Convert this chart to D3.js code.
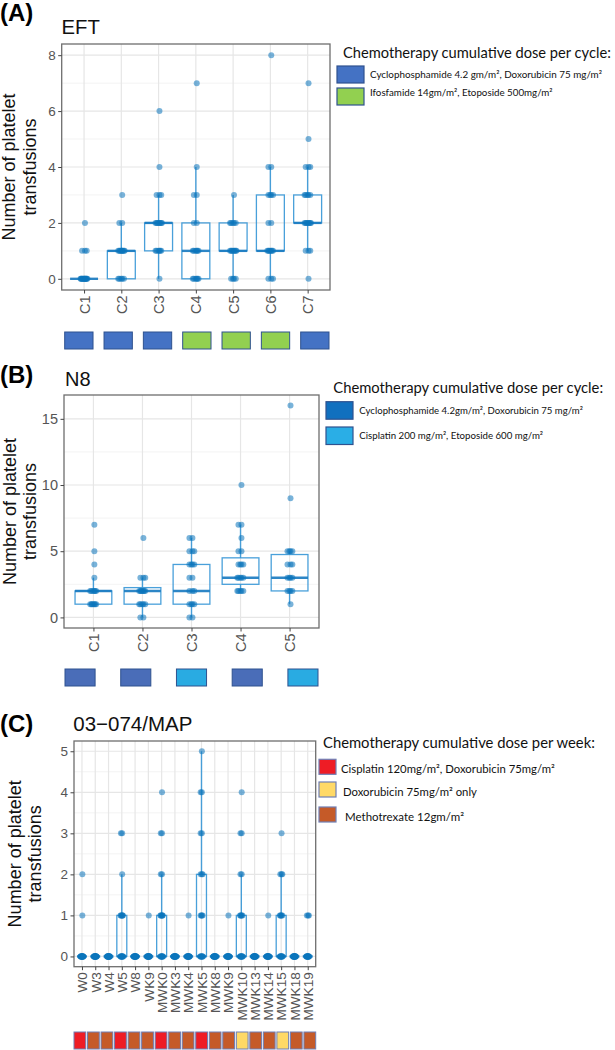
<!DOCTYPE html>
<html><head><meta charset="utf-8">
<script src="https://cdn.jsdelivr.net/npm/d3@7"></script>
<style>body{margin:0;background:#fff}</style>
</head><body><svg id="c" width="615" height="1050"></svg>
<script>
// ================= DATA =================
// Panel A: EFT
const eftCategories = ["C1","C2","C3","C4","C5","C6","C7"];
const eftPoints = [
  [0,0,0,0,0,0,0,0,0,0,0,0,0,0,1,1,1,2],
  [0,0,0,0,0,1,1,1,1,1,1,1,1,1,2,2,3],
  [0,1,1,1,1,1,1,2,2,2,2,2,2,2,2,3,3,3,4,6],
  [0,0,0,0,0,0,1,1,1,1,1,1,2,2,3,3,4,7],
  [0,0,0,0,1,1,1,1,1,1,1,1,2,2,2,2,2,3],
  [0,0,0,1,1,1,1,1,1,1,2,2,3,3,3,3,4,4,8],
  [0,1,1,1,2,2,2,2,2,2,2,2,3,3,3,3,3,4,4,4,5,7]
];
const eftQ1 = [0,0,1,0,1,1,2];
const eftMedian = [0,1,2,1,1,1,2];
const eftQ3 = [0,1,2,2,2,3,3];
const eftWhiskerLow = [0,0,0,0,0,0,1];
const eftWhiskerHigh = [0,2,3,4,3,4,4];
const eftRegimen = [0,0,0,1,1,1,0];
const eftYTicks = [0,2,4,6,8];
const eftTitle = "EFT";
const eftLegendTitle = "Chemotherapy cumulative dose per cycle:";
const eftLegendLabels = ["Cyclophosphamide 4.2 gm/m², Doxorubicin 75 mg/m²","Ifosfamide 14gm/m², Etoposide 500mg/m²"];

// Panel B: N8
const n8Categories = ["C1","C2","C3","C4","C5"];
const n8Points = [
  [1,1,1,1,1,1,1,2,2,2,2,2,2,3,4,5,7],
  [0,0,1,1,1,1,1,2,2,2,2,2,2,2,3,3,3,6],
  [0,0,1,1,1,1,2,2,2,3,3,4,4,4,4,5,5,5,6,6],
  [2,2,2,2,2,3,3,3,3,3,4,4,4,4,5,5,6,7,7,10],
  [1,2,2,2,2,3,3,3,3,4,4,4,5,5,5,5,9,16]
];
const n8Q1 = [1,1,1,2.5,2];
const n8Median = [2,2,2,3,3];
const n8Q3 = [2,2.25,4,4.5,4.75];
const n8WhiskerLow = [1,0,0,2,1];
const n8WhiskerHigh = [3,3,6,7,5];
const n8Regimen = [0,0,1,0,1];
const n8YTicks = [0,5,10,15];
const n8Title = "N8";
const n8LegendTitle = "Chemotherapy cumulative dose per cycle:";
const n8LegendLabels = ["Cyclophosphamide 4.2gm/m², Doxorubicin 75 mg/m²","Cisplatin 200 mg/m², Etoposide 600 mg/m²"];

// Panel C: 03-074/MAP
const mapCategories = ["W0","W3","W4","W5","W8","WK9","MWK0","MWK3","MWK4","MWK5","MWK8","MWK9","MWK10","MWK13","MWK14","MWK15","MWK18","MWK19"];
const Z = n => Array(n).fill(0);
const mapPoints = [
  Z(16).concat([1,2]),
  Z(18),
  Z(18),
  Z(10).concat([1,1,1,1,1,1,2,3,3]),
  Z(18),
  Z(17).concat([1]),
  Z(9).concat([1,1,1,1,1,1,2,2,3,3,4]),
  Z(18),
  Z(17).concat([1]),
  Z(8).concat([1,1,1,1,2,2,2,3,3,4,4,5]),
  Z(18),
  Z(17).concat([1]),
  Z(10).concat([1,1,1,1,1,2,2,3,3,4]),
  Z(18),
  Z(17).concat([1]),
  Z(10).concat([1,1,1,1,1,2,2,2,3]),
  Z(18),
  Z(14).concat([1,1,1])
];
const mapQ1 = Z(18);
const mapMedian = Z(18);
const mapQ3 = [0,0,0,1,0,0,1,0,0,2,0,0,1,0,0,1,0,0];
const mapWhiskerLow = Z(18);
const mapWhiskerHigh = [0,0,0,2,0,0,2,0,0,5,0,0,2,0,0,2,0,0];
const mapRegimen = [0,2,2,0,2,2,0,2,2,0,2,2,1,2,2,1,2,2];
const mapYTicks = [0,1,2,3,4,5];
const mapTitle = "03\u2212074/MAP";
const mapLegendTitle = "Chemotherapy cumulative dose per week:";
const mapLegendLabels = ["Cisplatin 120mg/m², Doxorubicin 75mg/m²","Doxorubicin 75mg/m² only","Methotrexate 12gm/m²"];

const yAxisTitle = ["Number of platelet","transfusions"];

// ================= STYLE / LAYOUT =================
const svg = d3.select("#c");
const AX_FONT = "'Liberation Sans', Arial, sans-serif";
const LEG_FONT = "Lato, 'Open Sans', sans-serif";
const PT_COLOR = "#0b74bc";
const BOX_COLOR = "#3596d6";

// size a text so that its natural width equals the target width
function fitText(sel, base, target) {
  sel.attr("font-size", base);
  const w = sel.node().getComputedTextLength();
  if (w > 0) sel.attr("font-size", (base * target / w).toFixed(2));
}

function drawPanel(cfg) {
  const g = svg.append("g");
  const x = d3.scalePoint().domain(cfg.categories).range([cfg.left, cfg.right]).padding(0.6);
  const step = x.step();
  const yMax = cfg.yMax, yMin = 0;
  const exp = (yMax - yMin) * 0.05;
  const y = d3.scaleLinear().domain([yMin - exp, yMax + exp]).range([cfg.bottom, cfg.top]);

  // panel label and title
  g.append("text").attr("x", 0).attr("y", cfg.labelY).text(cfg.panelLabel)
    .attr("font-family", AX_FONT).attr("font-weight", "bold").attr("font-size", 24).attr("fill", "#000");
  g.append("text").attr("x", cfg.titleX).attr("y", cfg.titleY).text(cfg.title)
    .attr("font-family", AX_FONT).attr("font-size", cfg.titleSize).attr("fill", "#111");

  // grid
  const minor = [];
  const t = cfg.yTicks;
  for (let i = 0; i < t.length - 1; i++) minor.push((t[i] + t[i+1]) / 2);
  g.selectAll(".ymin").data(minor).join("line")
    .attr("x1", cfg.left).attr("x2", cfg.right).attr("y1", d => y(d)).attr("y2", d => y(d))
    .attr("stroke", "#f2f2f2").attr("stroke-width", 0.9);
  g.selectAll(".ymaj").data(t).join("line")
    .attr("x1", cfg.left).attr("x2", cfg.right).attr("y1", d => y(d)).attr("y2", d => y(d))
    .attr("stroke", "#e6e6e6").attr("stroke-width", 1.2);
  g.selectAll(".xmaj").data(cfg.categories).join("line")
    .attr("x1", d => x(d)).attr("x2", d => x(d)).attr("y1", cfg.top).attr("y2", cfg.bottom)
    .attr("stroke", "#e6e6e6").attr("stroke-width", 1.2);

  // boxplots
  const bw = step * 0.75;
  const stats = cfg.categories.map((c, i) => ({c, q1: cfg.q1[i], med: cfg.median[i], q3: cfg.q3[i], lo: cfg.wlo[i], hi: cfg.whi[i]}));
  const bg = g.append("g").attr("stroke", BOX_COLOR).attr("fill", "none").attr("stroke-opacity", 0.9);
  bg.selectAll(".wh").data(stats.filter(s => s.hi > s.q3)).join("line")
    .attr("x1", d => x(d.c)).attr("x2", d => x(d.c)).attr("y1", d => y(d.q3)).attr("y2", d => y(d.hi)).attr("stroke-width", 1.4);
  bg.selectAll(".wl").data(stats.filter(s => s.lo < s.q1)).join("line")
    .attr("x1", d => x(d.c)).attr("x2", d => x(d.c)).attr("y1", d => y(d.q1)).attr("y2", d => y(d.lo)).attr("stroke-width", 1.4);
  bg.selectAll(".bx").data(stats).join("rect")
    .attr("x", d => x(d.c) - bw/2).attr("width", bw)
    .attr("y", d => y(d.q3)).attr("height", d => y(d.q1) - y(d.q3))
    .attr("fill", "none").attr("stroke-width", 1.3);
  bg.selectAll(".md").data(stats).join("line")
    .attr("x1", d => x(d.c) - bw/2).attr("x2", d => x(d.c) + bw/2)
    .attr("y1", d => y(d.med)).attr("y2", d => y(d.med)).attr("stroke-width", 2.4).attr("stroke", "#1679c0");

  // jittered points (deterministic spread)
  const pts = [];
  cfg.points.forEach((arr, i) => {
    const seen = {};
    arr.forEach(v => {
      const k = seen[v] = (seen[v] || 0) + 1;
      const off = (((k * 0.618034) % 1) - 0.5) * 2 * cfg.jitter * step;
      pts.push({c: cfg.categories[i], v, off});
    });
  });
  g.selectAll(".pt").data(pts).join("circle")
    .attr("cx", d => x(d.c) + d.off).attr("cy", d => y(d.v)).attr("r", cfg.r)
    .attr("fill", PT_COLOR).attr("fill-opacity", 0.55);

  // frame
  g.append("rect").attr("x", cfg.left).attr("y", cfg.top).attr("width", cfg.right - cfg.left).attr("height", cfg.bottom - cfg.top)
    .attr("fill", "none").attr("stroke", "#6e6e6e").attr("stroke-width", 1.3);

  // axes
  const ya = g.append("g").attr("transform", `translate(${cfg.left},0)`)
    .call(d3.axisLeft(y).tickValues(t).tickSize(3.5).tickPadding(2.5).tickFormat(d3.format("d")));
  ya.select(".domain").remove();
  ya.selectAll("line").attr("stroke", "#444");
  ya.selectAll("text").attr("font-family", AX_FONT).attr("font-size", cfg.tickSize).attr("fill", "#555");
  const xa = g.append("g").attr("transform", `translate(0,${cfg.bottom})`)
    .call(d3.axisBottom(x).tickSize(3.5).tickPadding(2));
  xa.select(".domain").remove();
  xa.selectAll("line").attr("stroke", "#444");
  xa.selectAll("text").attr("font-family", AX_FONT).attr("font-size", cfg.xTickSize).attr("fill", "#555")
    .attr("transform", "rotate(-90)").attr("text-anchor", "end").attr("dy", "0.35em").attr("x", -5.5).attr("y", 0);

  // y axis title
  const cy = (cfg.top + cfg.bottom) / 2;
  yAxisTitle.forEach((s, i) => {
    g.append("text").attr("transform", `translate(${cfg.yTitleX[i]},${cy}) rotate(-90)`)
      .attr("text-anchor", "middle").attr("font-family", AX_FONT).attr("font-size", 18).attr("fill", "#111").text(s);
  });

  // regimen swatches under the axis
  const sx = d3.scaleBand().domain(cfg.categories).range([cfg.left + cfg.swPad[0], cfg.right + cfg.swPad[1]]).paddingInner(cfg.swInner).paddingOuter(0);
  g.selectAll(".sw").data(cfg.categories).join("rect")
    .attr("x", d => sx(d)).attr("width", sx.bandwidth())
    .attr("y", cfg.swY).attr("height", cfg.swH)
    .attr("fill", (d, i) => cfg.swColors[cfg.regimen[i]])
    .attr("stroke", cfg.swStroke).attr("stroke-width", 1);

  // legend
  const L = cfg.legend;
  const lt = g.append("text").attr("x", L.tx).attr("y", L.ty).attr("dy", "0.35em").text(cfg.legendTitle)
    .attr("font-family", LEG_FONT).attr("fill", "#111");
  fitText(lt, 15, L.tw);
  cfg.legendLabels.forEach((lab, i) => {
    g.append("rect").attr("x", L.sx).attr("y", L.sy[i]).attr("width", L.sw).attr("height", L.sh)
      .attr("fill", L.colors[i]).attr("stroke", L.stroke).attr("stroke-width", 1.2);
    const tx = g.append("text").attr("x", L.lx[i]).attr("y", L.ly[i]).attr("dy", "0.35em").text(lab)
      .attr("font-family", LEG_FONT).attr("fill", "#111");
    fitText(tx, 10.5, L.lw[i]);
  });
}

drawPanel({
  panelLabel: "(A)", labelY: 21, title: eftTitle, titleX: 61.5, titleY: 34.3, titleSize: 20.3,
  categories: eftCategories, points: eftPoints, q1: eftQ1, median: eftMedian, q3: eftQ3,
  wlo: eftWhiskerLow, whi: eftWhiskerHigh, yMax: 8, yTicks: eftYTicks, regimen: eftRegimen,
  left: 61.7, right: 330, top: 44, bottom: 290, jitter: 0.1, r: 3, tickSize: 13.5, xTickSize: 14.5,
  yTitleX: [15.2, 35.5],
  swPad: [3, -1], swInner: 0.28, swY: 332, swH: 17, swColors: ["#4472C4", "#92D050"], swStroke: "#2F528F",
  legendTitle: eftLegendTitle, legendLabels: eftLegendLabels,
  legend: {tx: 343, ty: 53, tw: 268, sx: 337, sy: [66, 88], sw: 27, sh: 17, colors: ["#4472C4", "#92D050"], stroke: "#2F528F",
           lx: [370, 370], ly: [75, 93], lw: [232, 183]}
});

drawPanel({
  panelLabel: "(B)", labelY: 383.3, title: n8Title, titleX: 65, titleY: 386, titleSize: 20,
  categories: n8Categories, points: n8Points, q1: n8Q1, median: n8Median, q3: n8Q3,
  wlo: n8WhiskerLow, whi: n8WhiskerHigh, yMax: 16, yTicks: n8YTicks, regimen: n8Regimen,
  left: 64, right: 319, top: 395, bottom: 628, jitter: 0.08, r: 3, tickSize: 14.5, xTickSize: 14.5,
  yTitleX: [16, 36.3],
  swPad: [1, -1], swInner: 0.46, swY: 669, swH: 17, swColors: ["#4A6DB8", "#29ABE2"], swStroke: "#2F528F",
  legendTitle: n8LegendTitle, legendLabels: n8LegendLabels,
  legend: {tx: 333.3, ty: 388, tw: 270, sx: 326, sy: [401.7, 427], sw: 27, sh: 17.5, colors: ["#1170BF", "#2AAEE6"], stroke: "#2F528F",
           lx: [359.3, 359.3], ly: [410.7, 435.5], lw: [224, 184]}
});

drawPanel({
  panelLabel: "(C)", labelY: 731.5, title: mapTitle, titleX: 73.3, titleY: 730.7, titleSize: 20.5,
  categories: mapCategories, points: mapPoints, q1: mapQ1, median: mapMedian, q3: mapQ3,
  wlo: mapWhiskerLow, whi: mapWhiskerHigh, yMax: 5, yTicks: mapYTicks, regimen: mapRegimen,
  left: 74, right: 315.7, top: 741, bottom: 966.7, jitter: 0.12, r: 3, tickSize: 13.5, xTickSize: 13.6,
  yTitleX: [21, 41.3],
  swPad: [0, 0], swInner: 0.13, swY: 1032, swH: 17, swColors: ["#EE1C25", "#FFD966", "#C55A28"], swStroke: "#6f7fb5",
  legendTitle: mapLegendTitle, legendLabels: mapLegendLabels,
  legend: {tx: 323, ty: 743, tw: 272, sx: 319, sy: [759.3, 782, 807], sw: 17, sh: 15, colors: ["#EE1C25", "#FFD966", "#C55A28"], stroke: "#6f7fb5",
           lx: [341, 343, 345], ly: [769, 792, 817], lw: [214, 134, 119]}
});
</script></body></html>
